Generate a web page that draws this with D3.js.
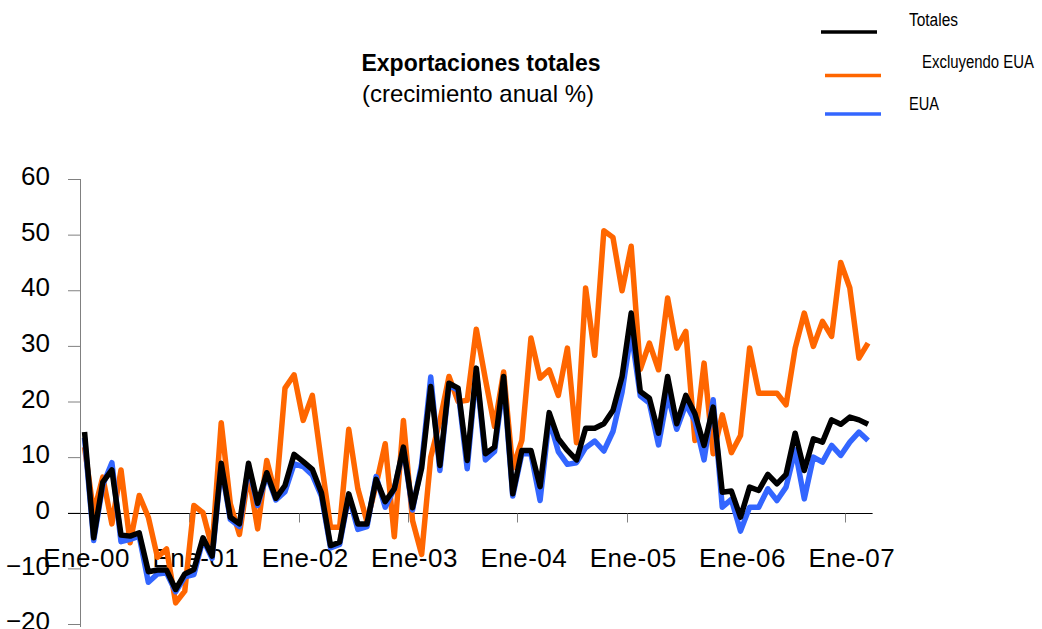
<!DOCTYPE html>
<html><head><meta charset="utf-8">
<script src="https://cdn.jsdelivr.net/npm/d3@7"></script>
<style>
body{margin:0;background:#fff}
svg{display:block}
text{font-family:"Liberation Sans",Arial,Helvetica,sans-serif;fill:#000}
</style>
</head><body>
<svg id="chart" width="1042" height="629"></svg>
<script>
const monthNames = ["Ene","Feb","Mar","Abr","May","Jun","Jul","Ago","Sep","Oct","Nov","Dic"];
const years = ["00","01","02","03","04","05","06","07"];
const categories = [];
years.forEach(y => monthNames.forEach(m => categories.push(m + "-" + y)));
categories.length = 87; // Ene-00 .. Mar-07

const tickLabels = ["Ene-00","Ene-01","Ene-02","Ene-03","Ene-04","Ene-05","Ene-06","Ene-07"];
const yTicks = [60,50,40,30,20,10,0,-10,-20];

const totales = [
  14.5,-4.5,5.5,7.7,-4.0,-4.2,-3.6,-10.6,-10.3,-10.3,-13.8,-11.0,
  -10.2,-4.5,-7.8,8.9,-0.8,-2.0,8.9,1.7,7.2,2.6,4.9,10.5,
  9.2,7.8,3.6,-5.9,-5.3,3.4,-2.0,-2.0,6.0,2.0,4.3,11.8,
  0.9,8.0,22.7,8.5,23.3,22.4,9.4,26.0,10.6,11.8,24.5,3.4,
  11.2,11.2,4.7,18.0,13.3,11.2,9.5,15.2,15.2,16.0,18.4,24.5,
  35.9,21.8,20.6,14.3,24.5,16.0,21.1,17.8,12.1,19.0,3.7,3.9,
  -0.8,4.6,4.0,6.9,5.2,6.9,14.3,7.6,13.3,12.7,16.7,15.9,
  17.2,16.7,15.9
];
const excluyendoEUA = [
  11.8,0.0,6.4,-2.0,7.7,-5.4,3.1,-0.8,-8.0,-6.5,-16.2,-14.1,
  1.3,0.0,-6.3,16.2,1.6,-3.9,7.0,-2.9,9.4,3.0,22.4,24.8,
  16.6,21.1,9.0,-2.6,-2.6,15.0,4.3,-1.6,5.0,12.4,-4.3,16.6,
  -1.4,-7.5,10.0,16.5,24.5,20.0,20.2,33.0,24.0,15.5,25.3,8.0,
  13.0,31.4,24.2,25.7,21.1,29.6,12.6,40.4,28.3,50.7,49.5,39.9,
  47.9,25.8,30.5,25.7,38.6,29.6,32.6,13.0,26.9,10.6,17.6,10.8,
  13.9,29.6,21.5,21.5,21.5,19.4,29.6,35.9,29.9,34.4,31.7,45.0,
  40.4,27.8,30.5
];
const eua = [
  13.5,-5.0,5.0,9.0,-5.2,-4.8,-4.2,-12.5,-11.0,-10.8,-14.2,-11.5,
  -11.1,-4.8,-8.2,8.4,-1.2,-2.5,8.4,1.3,6.8,2.3,3.8,8.8,
  8.3,6.8,3.0,-6.3,-5.7,3.0,-3.0,-2.5,6.5,1.0,4.3,11.5,
  0.5,8.8,24.4,7.6,23.0,22.0,7.9,25.5,9.5,11.0,23.5,3.0,
  10.6,10.6,2.2,16.8,11.0,8.7,9.0,11.7,12.9,11.1,14.6,21.7,
  32.5,21.0,19.7,12.2,21.2,15.0,19.5,16.5,9.5,20.3,1.0,2.4,
  -3.3,1.0,1.0,4.3,2.2,4.6,11.3,2.5,10.0,9.1,12.1,10.3,
  12.7,14.5,13.0
];

const seriesNames = ["Totales","Excluyendo EUA","EUA"];
const seriesColors = ["#000000","#FF6600","#3366FF"];

const svg = d3.select("#chart");
const x = d3.scaleBand().domain(categories).range([80, 872.6]).padding(0);
const y = d3.scaleLinear().domain([-20, 60]).range([624, 179]);
const cx = c => x(c) + x.bandwidth() / 2;

// Titles
svg.append("text").attr("x", 481).attr("y", 71).attr("text-anchor", "middle")
  .style("font-size", "23px").style("font-weight", "bold").text("Exportaciones totales");
svg.append("text").attr("x", 478).attr("y", 102).attr("text-anchor", "middle")
  .style("font-size", "24px").text("(crecimiento anual %)");

// Y axis
const yAxis = svg.append("g").attr("transform", "translate(80,0)")
  .call(d3.axisLeft(y).tickValues(yTicks).tickSize(12).tickPadding(18).tickFormat(d3.format("d")));
yAxis.select(".domain").attr("stroke", "#808080").attr("d", `M0.5,${y(60)}V${y(-20)+3}`);
yAxis.selectAll(".tick line").attr("stroke", "#808080");
yAxis.selectAll(".tick text").style("font-size", "26px").attr("fill", "#000")
  .attr("dy", "0.22em")
  .style("font-family", '"Liberation Sans",Arial,sans-serif');

// X axis at zero
const y0 = Math.round(y(0)) + 0.5;
svg.append("line").attr("x1", 68).attr("x2", 872.6).attr("y1", y0).attr("y2", y0)
  .attr("stroke", "#000").attr("stroke-width", 1);
svg.append("g").selectAll("line").data(tickLabels).join("line")
  .attr("x1", d => Math.round(x(d)) + 0.5).attr("x2", d => Math.round(x(d)) + 0.5)
  .attr("y1", y0).attr("y2", y0 + 9).attr("stroke", "#808080");
svg.append("g").selectAll("text").data(tickLabels).join("text")
  .attr("x", d => cx(d) + 2).attr("y", 567).attr("text-anchor", "middle")
  .style("font-size", "26px").style("letter-spacing", "0.5px").text(d => d);

// Lines
const line = d3.line().x((d, i) => cx(categories[i])).y(d => y(d));
const drawOrder = [[excluyendoEUA, seriesColors[1]], [eua, seriesColors[2]], [totales, seriesColors[0]]];
drawOrder.forEach(([vals, col]) => {
  svg.append("path").datum(vals).attr("d", line)
    .attr("fill", "none").attr("stroke", col).attr("stroke-width", 5.5)
    .attr("stroke-linejoin", "round").attr("stroke-linecap", "butt");
});

// Legend
const legend = [
  {name: seriesNames[0], color: seriesColors[0], lx1: 821, lx2: 877, ly: 32, tx: 909, ty: 26, tl: 49},
  {name: seriesNames[1], color: seriesColors[1], lx1: 825, lx2: 881, ly: 75.5, tx: 922, ty: 68, tl: 112},
  {name: seriesNames[2], color: seriesColors[2], lx1: 825, lx2: 881, ly: 114, tx: 909, ty: 110, tl: 30}
];
const lg = svg.append("g");
legend.forEach(l => {
  lg.append("line").attr("x1", l.lx1).attr("x2", l.lx2).attr("y1", l.ly).attr("y2", l.ly)
    .attr("stroke", l.color).attr("stroke-width", 3.5);
  lg.append("text").attr("x", l.tx).attr("y", l.ty)
    .style("font-size", "18px")
    .style("font-family", '"Liberation Sans Narrow","Arial Narrow","Liberation Sans",Arial,sans-serif')
    .attr("textLength", l.tl).attr("lengthAdjust", "spacingAndGlyphs")
    .text(l.name);
});
</script>
</body></html>
